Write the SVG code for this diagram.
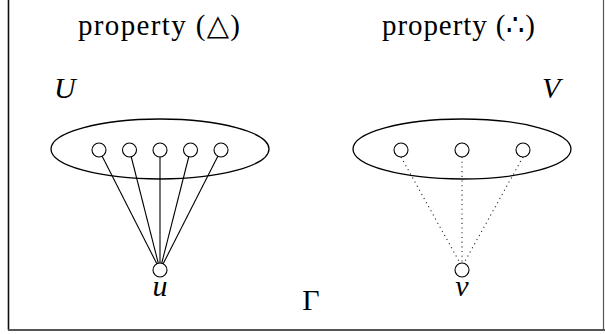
<svg xmlns="http://www.w3.org/2000/svg" width="605" height="334" viewBox="0 0 605 334">
  <style>
    .serif { font-family: "Liberation Serif", "DejaVu Serif", serif; fill: #000; }
    .it { font-style: italic; }
    .set { fill: none; stroke: #000; stroke-width: 1.3; }
    .node { fill: #fff; stroke: #000; stroke-width: 1.1; }
    .solid { stroke: #000; stroke-width: 1.1; fill: none; }
    .dotted { stroke: #222; stroke-width: 1.1; stroke-dasharray: 1.1 3.6; fill: none; }
  </style>
  <rect width="605" height="334" fill="#fff"/>
  <g id="frame">
    <line x1="8.5" y1="0" x2="8.5" y2="330" stroke="#111" stroke-width="1.6"/>
    <line x1="8" y1="330" x2="605" y2="330" stroke="#555" stroke-width="2"/>
    <line x1="603.5" y1="0" x2="603.5" y2="330" stroke="#555" stroke-width="1.2"/>
  </g>
  <g id="titles">
    <text class="serif" x="78" y="35" font-size="29" textLength="162" lengthAdjust="spacing">property (△)</text>
    <text class="serif" x="382" y="35" font-size="29" textLength="153" lengthAdjust="spacing">property (∴)</text>
  </g>
  <g id="set-U">
    <ellipse class="set" cx="160" cy="149" rx="109" ry="30"/>
    <text class="serif it" x="54" y="98" font-size="30">U</text>
  </g>
  <g id="set-V">
    <ellipse class="set" cx="462" cy="149" rx="109" ry="30"/>
    <text class="serif it" x="542" y="98" font-size="30">V</text>
  </g>
  <g id="connectors">
    <line class="solid" x1="99" y1="150" x2="160" y2="270"/>
    <line class="solid" x1="129.5" y1="150" x2="160" y2="270"/>
    <line class="solid" x1="160" y1="150" x2="160" y2="270"/>
    <line class="solid" x1="190.5" y1="150" x2="160" y2="270"/>
    <line class="solid" x1="221" y1="150" x2="160" y2="270"/>
    <line class="dotted" x1="401" y1="157" x2="460" y2="263"/>
    <line class="dotted" x1="462" y1="157" x2="462" y2="263"/>
    <line class="dotted" x1="523" y1="157" x2="464" y2="263"/>
  </g>
  <g id="U-members">
    <circle class="node" cx="99" cy="150" r="7"/>
    <circle class="node" cx="129.5" cy="150" r="7"/>
    <circle class="node" cx="160" cy="150" r="7"/>
    <circle class="node" cx="190.5" cy="150" r="7"/>
    <circle class="node" cx="221" cy="150" r="7"/>
  </g>
  <g id="V-members">
    <circle class="node" cx="401" cy="150" r="7"/>
    <circle class="node" cx="462" cy="150" r="7"/>
    <circle class="node" cx="523" cy="150" r="7"/>
  </g>
  <g id="node-u">
    <circle class="node" cx="160" cy="270" r="7"/>
    <text class="serif it" x="160" y="296" font-size="30" text-anchor="middle">u</text>
  </g>
  <g id="node-v">
    <circle class="node" cx="462" cy="270" r="7"/>
    <text class="serif it" x="462" y="296" font-size="30" text-anchor="middle">v</text>
  </g>
  <g id="gamma">
    <text class="serif" x="311" y="310" font-size="30" text-anchor="middle">Γ</text>
  </g>
</svg>
